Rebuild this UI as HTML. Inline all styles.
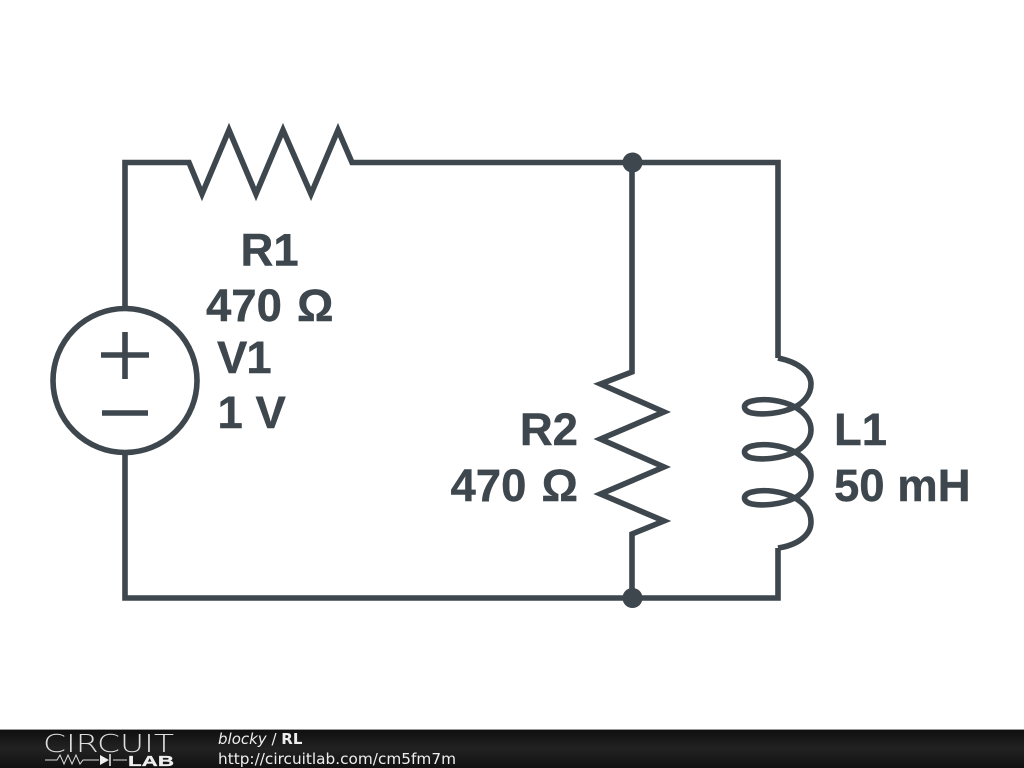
<!DOCTYPE html>
<html>
<head>
<meta charset="utf-8">
<style>
html,body{margin:0;padding:0;background:#fff}
svg{display:block}
.l{font-family:"Liberation Sans",sans-serif;font-weight:bold;font-size:45.5px;fill:#3d474d;stroke:#3d474d;stroke-width:0.4}
.f{font-family:"DejaVu Sans",sans-serif;font-size:15px;fill:#eee}
</style>
</head>
<body>
<svg width="1024" height="768" viewBox="0 0 1024 768" xmlns="http://www.w3.org/2000/svg">
<defs>
<linearGradient id="g" x1="0" y1="0" x2="0" y2="1">
<stop offset="0" stop-color="#0e0e0e"/>
<stop offset="0.5" stop-color="#222"/>
<stop offset="1" stop-color="#111"/>
</linearGradient>
</defs>
<rect width="1024" height="768" fill="#fff"/>
<g fill="none" stroke="#3d474d" stroke-width="5.6" stroke-linejoin="miter" stroke-miterlimit="6">
<path d="M125 306V162.500H189L202 194L229 130L256 194L283 130L311 194L338 130L352 162.500H632H778V358"/>
<path d="M125 455V598H778V548"/>
<path d="M632 162V372L600.500 384L664 412L600.500 439L664 467L600.500 494L664 521L632 534V598"/>
<circle cx="125" cy="380.500" r="72"/>
<path d="M101 355H149M125 332V379M102 413H148"/>
<path d="M778 358C798 362 811 372 811 384C811 395 803 403 795 407C780 414 762 415 752 413C742 411 742 403 752 401C764 398 782 400 795 407C805 413 811 420 811 430C811 440 803 448 795 452C780 459 762 460 752 458C742 456 742 448 752 446C764 443 782 445 795 452C805 458 811 465 811 475C811 485 803 493 795 498C780 505 762 506 752 504C742 502 742 494 752 492C764 489 782 491 795 498C805 504 811 511 811 522C811 535 798 545 778 548"/>
</g>
<circle cx="632.500" cy="162.500" r="10" fill="#3d474d"/>
<circle cx="632.500" cy="598" r="10" fill="#3d474d"/>
<text class="l" x="240.500" y="265.500">R1</text>
<text class="l" x="206" y="321" word-spacing="2.500">470 Ω</text>
<text class="l" x="217" y="373" letter-spacing="-1">V1</text>
<text class="l" x="217.500" y="428">1 V</text>
<text class="l" x="578" y="445" text-anchor="end">R2</text>
<text class="l" x="578" y="501" text-anchor="end" word-spacing="2.500">470 Ω</text>
<text class="l" x="834" y="445">L1</text>
<text class="l" x="834" y="501">50 mH</text>
<rect x="0" y="729" width="1024" height="39" fill="url(#g)"/>
<rect x="0" y="729" width="1024" height="1" fill="#999"/>
<text x="43" y="752" font-family="DejaVu Sans ExtraLight,DejaVu Sans,sans-serif" font-weight="200" font-size="25" fill="#ddd" textLength="131" lengthAdjust="spacingAndGlyphs">CIRCUIT</text>
<text x="128" y="766" font-family="Liberation Sans,sans-serif" font-weight="bold" font-size="15" fill="#eee" stroke="#eee" stroke-width="0.3" textLength="46" lengthAdjust="spacingAndGlyphs">LAB</text>
<path d="M45 760H57L60 755L64 764L68 755L72 764L76 755L80 764L83 760H99M113 760H127" fill="none" stroke="#ddd" stroke-width="1"/>
<path d="M100 755V765L109 760Z" fill="#eee"/>
<path d="M110 754V766" stroke="#eee" stroke-width="1.500"/>
<text class="f" x="218" y="744"><tspan font-style="italic">blocky</tspan> / <tspan font-weight="bold">RL</tspan></text>
<text class="f" x="218" y="764" textLength="238" lengthAdjust="spacingAndGlyphs">http://circuitlab.com/cm5fm7m</text>
</svg>
</body>
</html>
